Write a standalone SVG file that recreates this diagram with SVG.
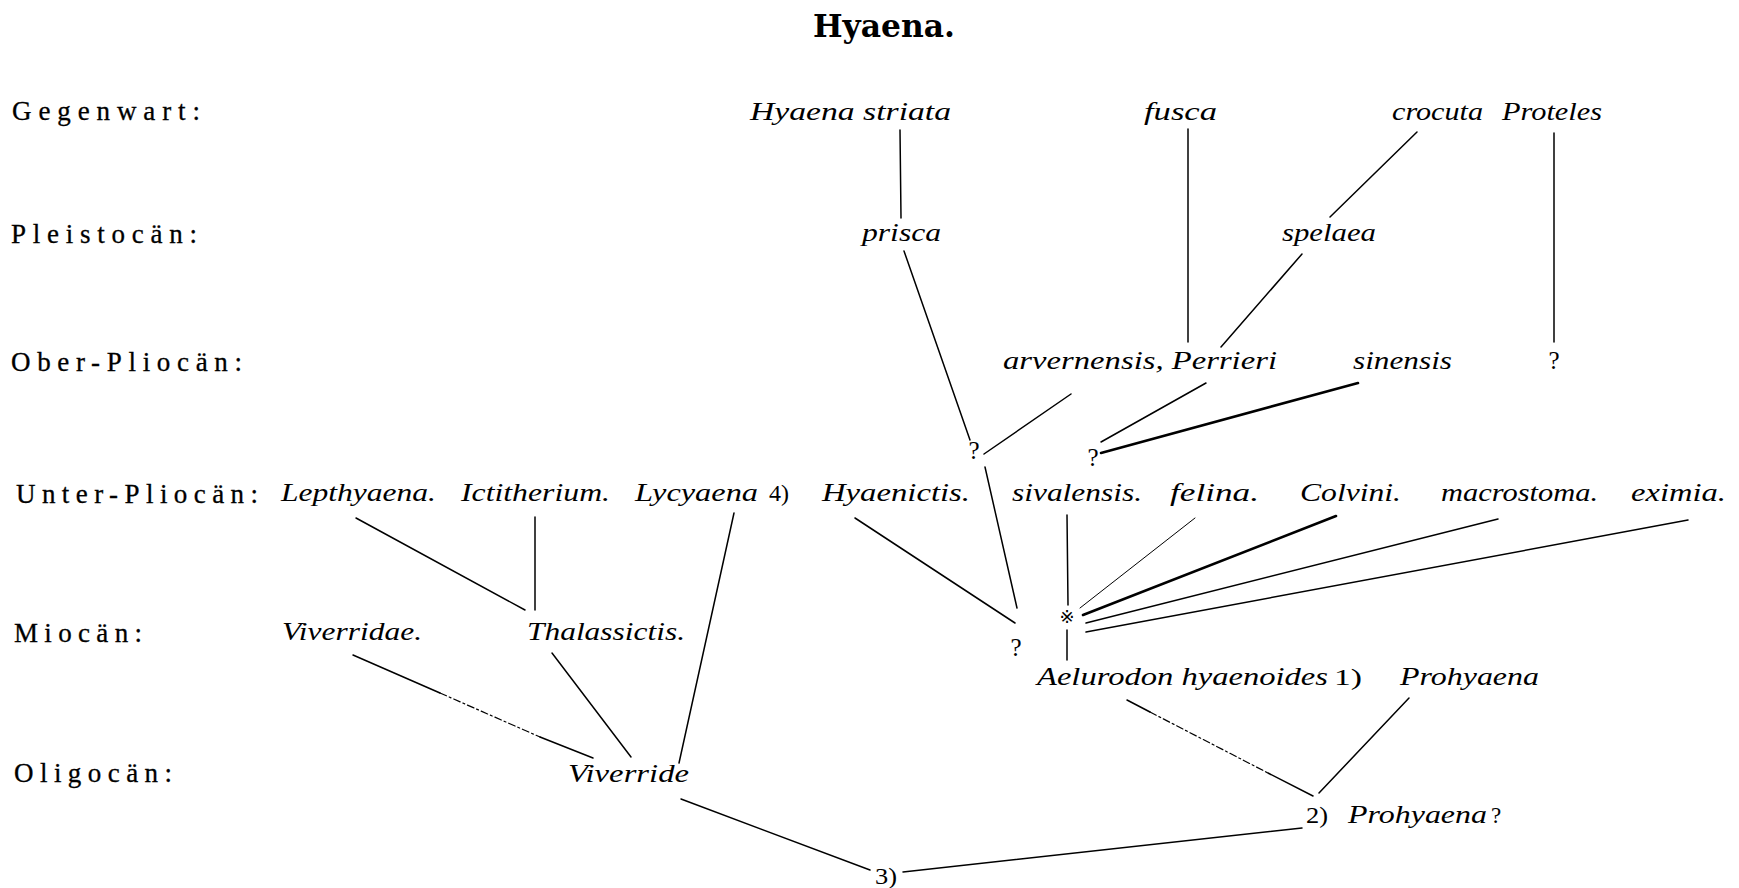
<svg xmlns="http://www.w3.org/2000/svg" width="1739" height="888" viewBox="0 0 1739 888">
<style>
.bg{fill:#fff}
.title{font-family:"DejaVu Serif","Liberation Serif",serif;font-weight:bold;font-size:31px;fill:#000}
.lab{font-family:"Liberation Serif",serif;font-size:27px;fill:#000;stroke:#000;stroke-width:0.3}
.n{font-family:"Liberation Serif",serif;font-style:italic;font-size:26px;fill:#000}
.num{font-family:"Liberation Serif",serif;font-size:23px;fill:#000}
.q{font-family:"Liberation Serif",serif;font-size:25px;fill:#000}
.sym{font-family:"DejaVu Sans","Noto Sans CJK SC",sans-serif;font-size:18px;fill:#000}
.c line{stroke:#000;stroke-width:1.5;stroke-linecap:round}
.c .thick{stroke-width:2.6}
.c .thin{stroke-width:1}
.c .dash{stroke-width:1.2;stroke-dasharray:7 3 2 3}
</style>
<rect class="bg" x="0" y="0" width="1739" height="888"/>
<g id="title"><text class="title" x="813" y="37" textLength="142" lengthAdjust="spacingAndGlyphs">Hyaena.</text></g>
<g id="labels">
<text class="lab" x="12" y="120" textLength="188" lengthAdjust="spacing">Gegenwart:</text>
<text class="lab" x="11" y="243" textLength="186" lengthAdjust="spacing">Pleistocän:</text>
<text class="lab" x="11" y="371" textLength="231" lengthAdjust="spacing">Ober-Pliocän:</text>
<text class="lab" x="16" y="503" textLength="242" lengthAdjust="spacing">Unter-Pliocän:</text>
<text class="lab" x="14" y="642" textLength="128" lengthAdjust="spacing">Miocän:</text>
<text class="lab" x="14" y="782" textLength="158" lengthAdjust="spacing">Oligocän:</text>
</g>
<g class="c" id="connectors">
<line x1="900" y1="130" x2="901" y2="218"/>
<line x1="1188" y1="129" x2="1188" y2="342"/>
<line x1="1417" y1="132" x2="1330" y2="217"/>
<line x1="1554" y1="133" x2="1554" y2="342"/>
<line x1="1302" y1="254" x2="1221" y2="347"/>
<line x1="904" y1="251" x2="970" y2="440"/>
<line x1="1071" y1="394" x2="984" y2="454"/>
<line x1="1206" y1="383" x2="1101" y2="442"/>
<line class="thick" x1="1358" y1="383" x2="1101" y2="453"/>
<line x1="985" y1="467" x2="1017" y2="608"/>
<line x1="855" y1="518" x2="1015" y2="623"/>
<line x1="1067" y1="515" x2="1068" y2="605"/>
<line x1="1067" y1="630" x2="1067" y2="660"/>
<line class="thin" x1="1195" y1="518" x2="1080" y2="608"/>
<line class="thick" x1="1336" y1="516" x2="1083" y2="615"/>
<line x1="1498" y1="519" x2="1086" y2="623"/>
<line x1="1688" y1="520" x2="1086" y2="632"/>
<line x1="356" y1="518" x2="525" y2="610"/>
<line x1="535" y1="517" x2="535" y2="610"/>
<line x1="734" y1="513" x2="679" y2="763"/>
<line x1="353" y1="655" x2="440" y2="693"/>
<line class="dash" x1="440" y1="693" x2="540" y2="737"/>
<line x1="540" y1="737" x2="593" y2="758"/>
<line x1="552" y1="653" x2="631" y2="757"/>
<line x1="681" y1="799" x2="870" y2="870"/>
<line x1="903" y1="872" x2="1302" y2="828"/>
<line x1="1127" y1="700" x2="1150" y2="712"/>
<line class="dash" x1="1150" y1="712" x2="1268" y2="773"/>
<line x1="1268" y1="773" x2="1313" y2="796"/>
<line x1="1409" y1="698" x2="1319" y2="793"/>
</g>
<g id="hyaena-striata"><text class="n" x="750" y="120" textLength="201" lengthAdjust="spacingAndGlyphs">Hyaena striata</text></g>
<g id="fusca"><text class="n" x="1144" y="120" textLength="73" lengthAdjust="spacingAndGlyphs">fusca</text></g>
<g id="crocuta"><text class="n" x="1392" y="120" textLength="91" lengthAdjust="spacingAndGlyphs">crocuta</text></g>
<g id="proteles"><text class="n" x="1502" y="120" textLength="100" lengthAdjust="spacingAndGlyphs">Proteles</text></g>
<g id="prisca"><text class="n" x="862" y="241" textLength="79" lengthAdjust="spacingAndGlyphs">prisca</text></g>
<g id="spelaea"><text class="n" x="1282" y="241" textLength="94" lengthAdjust="spacingAndGlyphs">spelaea</text></g>
<g id="arvernensis-perrieri"><text class="n" x="1003" y="369" textLength="274" lengthAdjust="spacingAndGlyphs">arvernensis, Perrieri</text></g>
<g id="sinensis"><text class="n" x="1353" y="369" textLength="99" lengthAdjust="spacingAndGlyphs">sinensis</text></g>
<g id="q-proteles"><text class="q" x="1554" y="369" text-anchor="middle">?</text></g>
<g id="q-a"><text class="q" x="974" y="459" text-anchor="middle">?</text></g>
<g id="q-b"><text class="q" x="1093" y="466" text-anchor="middle">?</text></g>
<g id="lepthyaena"><text class="n" x="281" y="501" textLength="155" lengthAdjust="spacingAndGlyphs">Lepthyaena.</text></g>
<g id="ictitherium"><text class="n" x="461" y="501" textLength="149" lengthAdjust="spacingAndGlyphs">Ictitherium.</text></g>
<g id="lycyaena"><text class="n" x="635" y="501" textLength="123" lengthAdjust="spacingAndGlyphs">Lycyaena</text><text class="num" x="769" y="501" textLength="20" lengthAdjust="spacingAndGlyphs">4)</text></g>
<g id="hyaenictis"><text class="n" x="822" y="501" textLength="148" lengthAdjust="spacingAndGlyphs">Hyaenictis.</text></g>
<g id="sivalensis"><text class="n" x="1012" y="501" textLength="130" lengthAdjust="spacingAndGlyphs">sivalensis.</text></g>
<g id="felina"><text class="n" x="1170" y="501" textLength="89" lengthAdjust="spacingAndGlyphs">felina.</text></g>
<g id="colvini"><text class="n" x="1300" y="501" textLength="101" lengthAdjust="spacingAndGlyphs">Colvini.</text></g>
<g id="macrostoma"><text class="n" x="1441" y="501" textLength="157" lengthAdjust="spacingAndGlyphs">macrostoma.</text></g>
<g id="eximia"><text class="n" x="1631" y="501" textLength="95" lengthAdjust="spacingAndGlyphs">eximia.</text></g>
<g id="viverridae"><text class="n" x="282" y="640" textLength="140" lengthAdjust="spacingAndGlyphs">Viverridae.</text></g>
<g id="thalassictis"><text class="n" x="527" y="640" textLength="158" lengthAdjust="spacingAndGlyphs">Thalassictis.</text></g>
<g id="q-miocaen"><text class="q" x="1016" y="656" text-anchor="middle">?</text></g>
<g id="star"><text class="sym" x="1067" y="623" text-anchor="middle">※</text></g>
<g id="aelurodon"><text class="n" x="1037" y="685" textLength="291" lengthAdjust="spacingAndGlyphs">Aelurodon hyaenoides</text><text class="num" x="1334" y="685" textLength="28" lengthAdjust="spacingAndGlyphs">1)</text></g>
<g id="prohyaena"><text class="n" x="1400" y="685" textLength="139" lengthAdjust="spacingAndGlyphs">Prohyaena</text></g>
<g id="viverride"><text class="n" x="568" y="782" textLength="121" lengthAdjust="spacingAndGlyphs">Viverride</text></g>
<g id="prohyaena-q"><text class="num" x="1306" y="823" textLength="22" lengthAdjust="spacingAndGlyphs">2)</text><text class="n" x="1348" y="823" textLength="139" lengthAdjust="spacingAndGlyphs">Prohyaena</text><text class="num" x="1491" y="823" font-size="26">?</text></g>
<g id="n3"><text class="num" x="875" y="884" textLength="22" lengthAdjust="spacingAndGlyphs">3)</text></g>
</svg>
